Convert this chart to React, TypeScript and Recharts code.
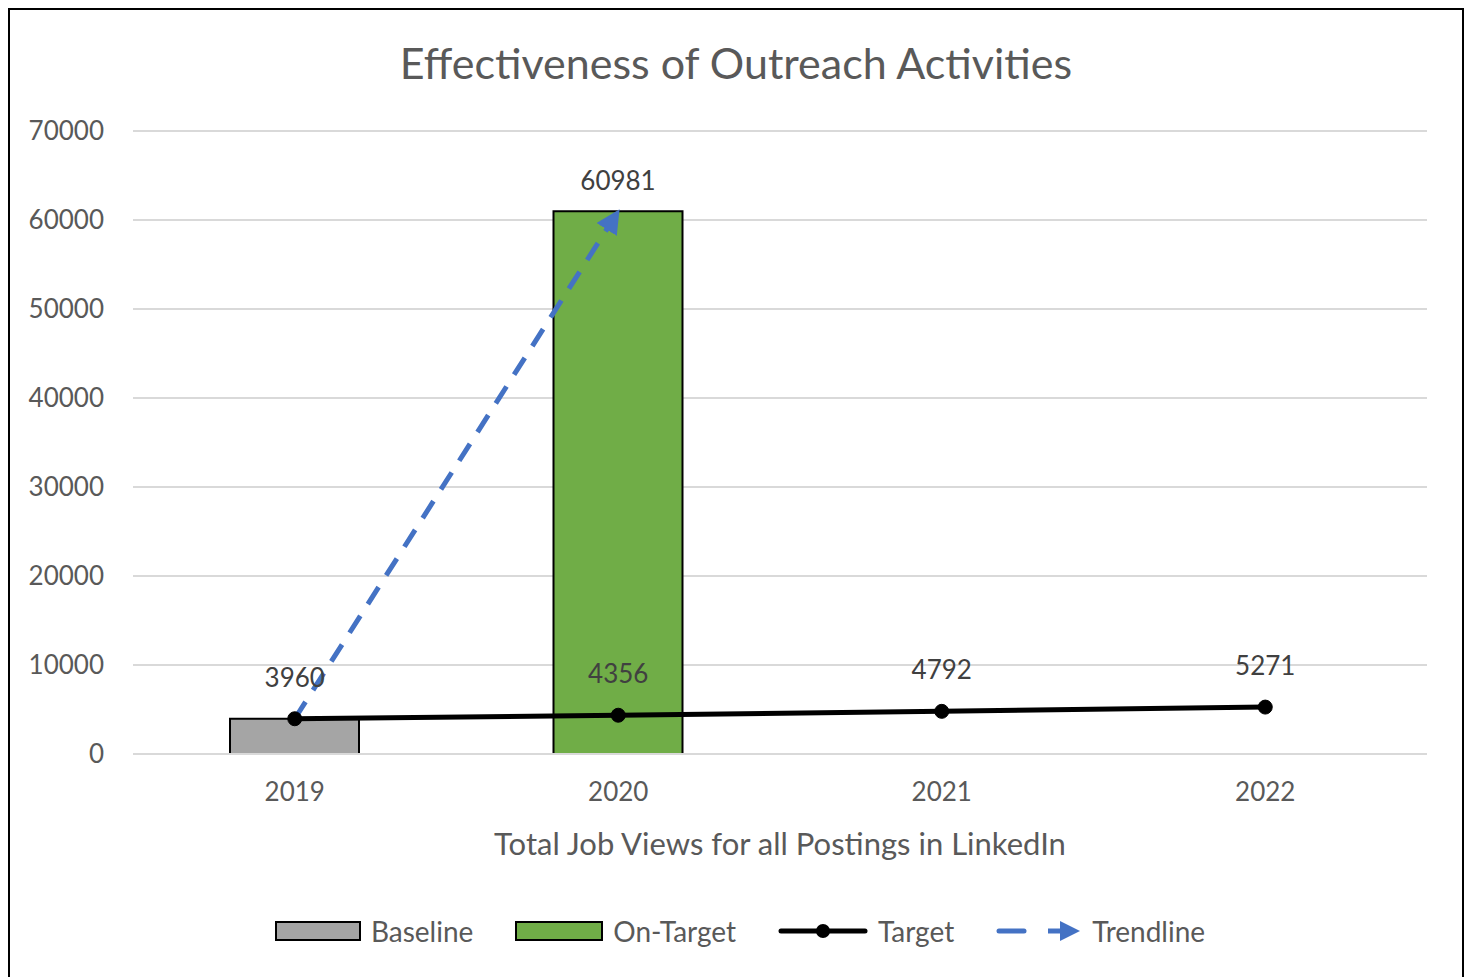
import {
  ComposedChart,
  Bar,
  Line,
  XAxis,
  YAxis,
  CartesianGrid,
  LabelList,
  Legend,
} from 'recharts';

const years = ['2019', '2020', '2021', '2022'];
const baselineValues = [3960, null, null, null];
const onTargetValues = [null, 60981, null, null];
const targetValues = [3960, 4356, 4792, 5271];
const trendlineValues = [3960, 60981, null, null];
const yTicks = [0, 10000, 20000, 30000, 40000, 50000, 60000, 70000];

const FONT = 'Lato, "Open Sans", sans-serif';
const TEXT = '#595959';
const BLUE = '#4472c4';

const data = years.map((year, i) => ({
  year,
  baseline: baselineValues[i],
  onTarget: onTargetValues[i],
  target: targetValues[i],
  trendline: trendlineValues[i],
}));

const LegendContent = () => {
  const item = { display: 'flex', alignItems: 'center', gap: 10 } as const;
  return (
    <div
      style={{
        display: 'flex',
        justifyContent: 'center',
        gap: 42,
        fontFamily: FONT,
        fontSize: 28,
        color: TEXT,
        paddingLeft: 8,
      }}
    >
      <div style={item}>
        <svg width={86} height={22}>
          <rect x={1} y={2} width={84} height={18} fill="#a5a5a5" stroke="#000" strokeWidth={2} />
        </svg>
        <span>Baseline</span>
      </div>
      <div style={item}>
        <svg width={88} height={22}>
          <rect x={1} y={2} width={86} height={18} fill="#70ad47" stroke="#000" strokeWidth={2} />
        </svg>
        <span>On-Target</span>
      </div>
      <div style={item}>
        <svg width={90} height={22}>
          <line x1={3} y1={11} x2={87} y2={11} stroke="#000" strokeWidth={5} strokeLinecap="round" />
          <circle cx={45} cy={11} r={7} fill="#000" />
        </svg>
        <span>Target</span>
      </div>
      <div style={item}>
        <svg width={86} height={22}>
          <line x1={3} y1={11} x2={28} y2={11} stroke={BLUE} strokeWidth={5} strokeLinecap="round" />
          <line x1={52} y1={11} x2={66} y2={11} stroke={BLUE} strokeWidth={5} />
          <path d="M64,1 L84,11 L64,21 Z" fill={BLUE} />
        </svg>
        <span>Trendline</span>
      </div>
    </div>
  );
};

export default function App() {
  return (
    <div
      style={{
        position: 'relative',
        width: 1452,
        height: 967,
        borderTop: '2px solid #000',
        borderLeft: '2px solid #000',
        borderRight: '2px solid #000',
        background: '#fff',
        fontFamily: FONT,
      }}
    >
      <div
        style={{
          position: 'absolute',
          top: 31,
          left: 0,
          width: 1452,
          textAlign: 'center',
          fontSize: 43,
          lineHeight: '44px',
          color: TEXT,
        }}
      >
        Effectiveness of Outreach Activities
      </div>
      <ComposedChart
        width={1452}
        height={965}
        data={data}
        margin={{ top: 121, right: 35, left: 0, bottom: 111 }}
      >
        <defs>
          <marker
            id="trendArrow"
            viewBox="0 0 10 10"
            refX={9}
            refY={5}
            markerWidth={24}
            markerHeight={24}
            markerUnits="userSpaceOnUse"
            orient="auto"
          >
            <path d="M0,0 L10,5 L0,10 Z" fill={BLUE} />
          </marker>
        </defs>
        <CartesianGrid vertical={false} stroke="#d9d9d9" strokeWidth={2} />
        <XAxis
          dataKey="year"
          height={110}
          axisLine={{ stroke: '#d9d9d9', strokeWidth: 2 }}
          tickLine={false}
          tickSize={0}
          tickMargin={29}
          tick={{ fill: TEXT, fontSize: 26, fontFamily: FONT }}
          label={{
            value: 'Total Job Views for all Postings in LinkedIn',
            position: 'insideBottom',
            offset: 9,
            fill: TEXT,
            fontSize: 31,
            fontFamily: FONT,
          }}
        />
        <YAxis
          width={123}
          domain={[0, 70000]}
          ticks={yTicks}
          axisLine={false}
          tickLine={false}
          tickSize={0}
          tickMargin={29}
          tick={{ fill: TEXT, fontSize: 26, fontFamily: FONT }}
        />
        <Bar
          dataKey="baseline"
          stackId="a"
          barSize={129}
          fill="#a5a5a5"
          stroke="#000"
          strokeWidth={2}
          isAnimationActive={false}
        />
        <Bar
          dataKey="onTarget"
          stackId="a"
          barSize={129}
          fill="#70ad47"
          stroke="#000"
          strokeWidth={2}
          isAnimationActive={false}
        >
          <LabelList dataKey="onTarget" position="top" offset={21} fill="#404040" fontSize={26} fontFamily={FONT} />
        </Bar>
        <Line
          dataKey="target"
          stroke="#000"
          strokeWidth={5}
          dot={{ r: 7, fill: '#000', stroke: '#000', strokeWidth: 1 }}
          activeDot={false}
          isAnimationActive={false}
        >
          <LabelList dataKey="target" position="top" offset={32} fill="#404040" fontSize={26} fontFamily={FONT} />
        </Line>
        <Line
          dataKey="trendline"
          stroke={BLUE}
          strokeWidth={5}
          strokeDasharray="20 14"
          markerEnd="url(#trendArrow)"
          dot={false}
          activeDot={false}
          isAnimationActive={false}
        />
        <Legend
          layout="horizontal"
          verticalAlign="middle"
          align="center"
          wrapperStyle={{ top: 904, left: 0, width: 1452 }}
          content={<LegendContent />}
        />
      </ComposedChart>
    </div>
  );
}
